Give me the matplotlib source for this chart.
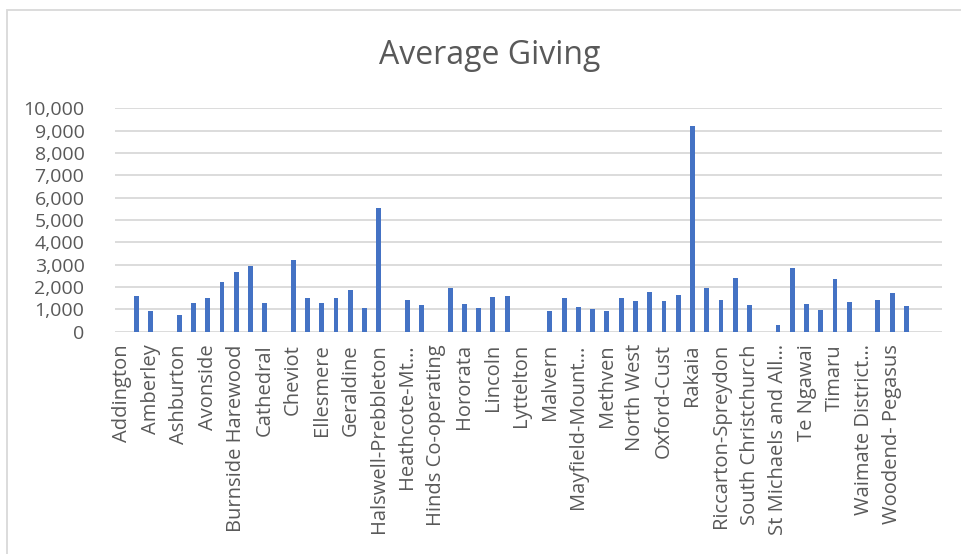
import matplotlib
matplotlib.use("Agg")
import matplotlib.pyplot as plt
from matplotlib.patches import Rectangle

# parishes (every other category carries a label in the original chart)
labels = ["Addington", "Amberley", "Ashburton", "Avonside", "Burnside Harewood",
          "Cathedral", "Cheviot", "Ellesmere", "Geraldine", "Halswell-Prebbleton",
          "Heathcote-Mt…", "Hinds Co-operating", "Hororata", "Lincoln", "Lyttelton",
          "Malvern", "Mayfield-Mount…", "Methven", "North West", "Oxford-Cust",
          "Rakaia", "Riccarton-Spreydon", "South Christchurch", "St Michaels and All…",
          "Te Ngawai", "Timaru", "Waimate District…", "Woodend- Pegasus"]

# average giving per category, 58 categories in order
values = [0, 1610, 940, 0, 730, 1270, 1510, 2210, 2670, 2940,
          1270, 0, 3190, 1510, 1270, 1510, 1850, 1040, 5520, 0,
          1420, 1210, 0, 1970, 1220, 1040, 1540, 1580, 0, 0,
          930, 1510, 1120, 1010, 910, 1510, 1360, 1760, 1370, 1660,
          9210, 1940, 1420, 2390, 1210, 0, 280, 2850, 1240, 960,
          2360, 1330, 0, 1400, 1720, 1130, 0, 0]

yticks = list(range(0, 10001, 1000))

FONT = "Open Sans"
GREY = "#595959"

fig = plt.figure(figsize=(9.62, 5.54), dpi=100)
ax = fig.add_axes([115 / 962, 1 - 331.7 / 554, 827 / 962, 223.4 / 554])

x = list(range(len(values)))
ax.bar(x, values, width=0.34, color="#4472C4", zorder=3)

ax.set_xlim(-0.5, len(values) - 0.5)
ax.set_ylim(0, 10000)
ax.set_yticks(yticks)
ax.set_yticklabels([f"{v:,}" for v in yticks], fontsize=14, color=GREY, family=FONT)
ax.set_xticks(x[0:len(labels) * 2:2])
ax.set_xticklabels(labels, rotation=90, ha="center", va="top",
                   fontsize=14.5, color=GREY, family=FONT)
ax.tick_params(axis="both", length=0)
ax.tick_params(axis="x", pad=9)
ax.tick_params(axis="y", pad=22)

ax.grid(axis="y", color="#D9D9D9", linewidth=1.3, zorder=0)
for s in ax.spines.values():
    s.set_visible(False)

fig.text(490 / 962, 1 - 56 / 554, "Average Giving", ha="center", va="center",
         fontsize=23, color=GREY, family=FONT)

# chart frame (only top and left edges fall inside the picture)
fig.patches.append(Rectangle((7 / 962, -0.05), 1.0, 1.05 - 10 / 554,
                             transform=fig.transFigure, fill=False,
                             edgecolor="#D9D9D9", linewidth=1.3))

fig.savefig("out.png", dpi=100)
